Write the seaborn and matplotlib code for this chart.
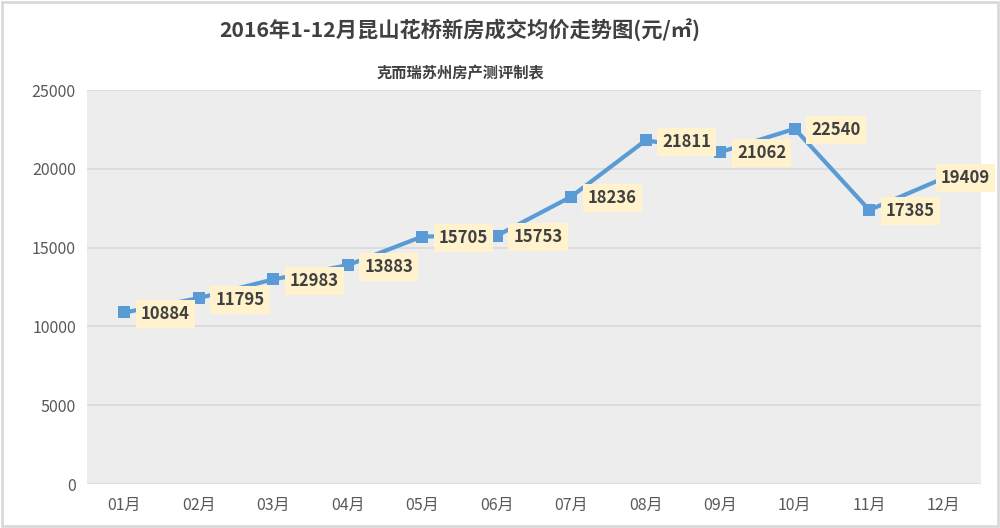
import matplotlib
matplotlib.use("Agg")
import matplotlib.pyplot as plt
import seaborn as sns
import pandas as pd
from matplotlib.patches import Rectangle

months = ["01月", "02月", "03月", "04月", "05月", "06月", "07月", "08月", "09月", "10月", "11月", "12月"]
prices = [10884, 11795, 12983, 13883, 15705, 15753, 18236, 21811, 21062, 22540, 17385, 19409]
yticks = [0, 5000, 10000, 15000, 20000, 25000]

title = "2016年1-12月昆山花桥新房成交均价走势图(元/㎡)"
subtitle = "克而瑞苏州房产测评制表"

sns.set_theme(style="white")
plt.rcParams["font.family"] = ["Noto Sans CJK SC", "DejaVu Sans"]

df = pd.DataFrame({"month": months, "price": prices})

fig = plt.figure(figsize=(10, 5.28), dpi=100)
ax = fig.add_axes([0.087, 0.0833, 0.894, 0.7462])
ax.set_facecolor("#EDEDED")

line_color = "#5B9BD5"
sns.lineplot(data=df, x="month", y="price", ax=ax, sort=False, color=line_color,
             linewidth=3, marker="s", markersize=8, markeredgewidth=0, zorder=3)

n = len(prices)
for i, v in enumerate(prices):
    dx = 12 if i < n - 1 else -2
    dy = -1 if i < n - 1 else 0
    ax.annotate(str(v), (i, v), xytext=(dx, dy), textcoords="offset points",
                ha="left", va="center", fontsize=12, fontweight="bold", color="#404040",
                bbox=dict(boxstyle="square,pad=0.3", fc="#FFF2CC", ec="none"), zorder=4)

ax.set_xlim(-0.5, 11.5)
ax.set_ylim(0, 25000)
ax.set_yticks(yticks)
ax.set_yticklabels([str(t) for t in yticks])
ax.yaxis.grid(True, color="#D9D9D9", linewidth=1.2)
ax.set_axisbelow(True)
for s in ax.spines.values():
    s.set_visible(False)
ax.tick_params(axis="both", length=0, labelsize=11.5, colors="#595959")
ax.tick_params(axis="x", pad=9)
ax.tick_params(axis="y", pad=8)
ax.set_xlabel("")
ax.set_ylabel("")

fig.text(0.46, 0.943, title, ha="center", va="center", fontsize=15.3, fontweight="bold", color="#404040")
fig.text(0.46, 0.862, subtitle, ha="center", va="center", fontsize=11, fontweight="bold", color="#404040")

fig.patches.append(Rectangle((0.002, 0.003), 0.996, 0.994, transform=fig.transFigure,
                             fill=False, ec="#D9D9D9", lw=2))

fig.savefig("out.png", dpi=100, facecolor="white")
